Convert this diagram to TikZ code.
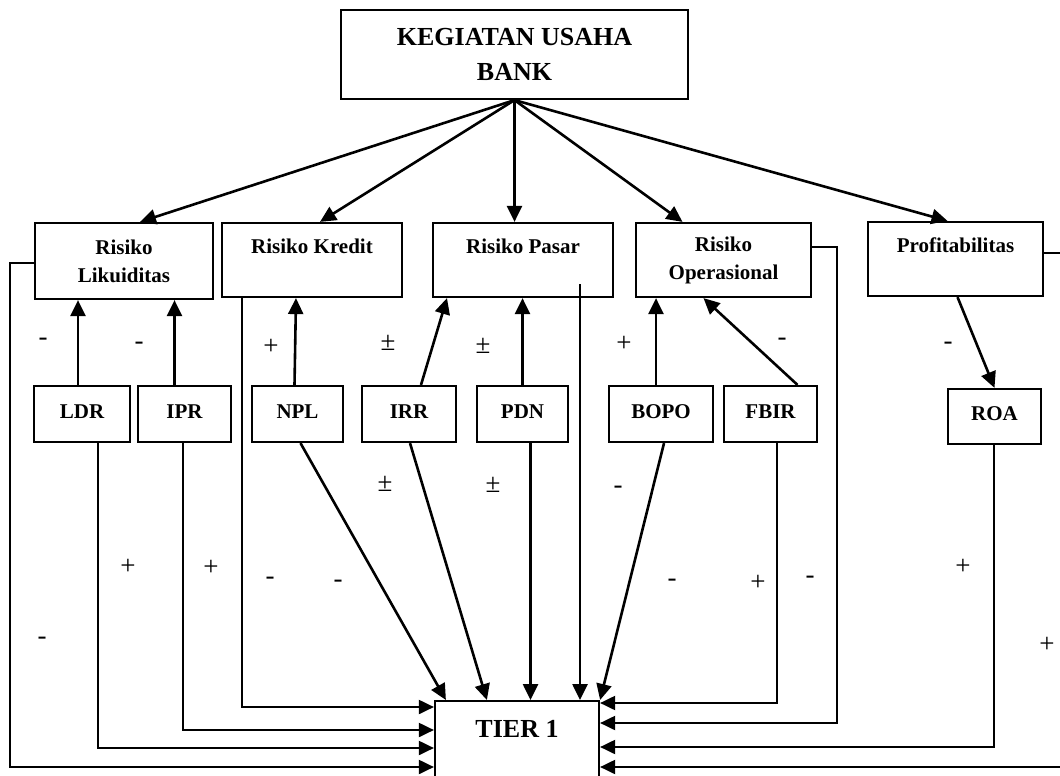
\documentclass[tikz,border=0pt]{standalone}
\usepackage{fontspec}
\setmainfont{Liberation Serif}
\usetikzlibrary{arrows.meta}

\begin{document}
\begin{tikzpicture}[x=1pt, y=-1pt,
		box/.style={draw, line width=2.2pt, inner sep=0pt, align=center, font=\fontsize{21}{28}\selectfont\bfseries},
		rasio/.style={box, minimum height=56pt, text height=14pt, text depth=6pt},
		arr/.style={line width=2.6pt, -{Triangle[length=16pt, width=15pt]}},
		con/.style={line width=2pt, -{Triangle[length=15pt, width=14pt]}},
		sign/.style={inner sep=0pt, font=\fontsize{27}{30}\selectfont}]
			\useasboundingbox (0,0) rectangle (1060,776);
			\clip (0,0) rectangle (1060,776);
			
			% Kegiatan usaha
			\node[box, font=\fontsize{26}{35}\selectfont\bfseries, minimum width=347pt, minimum height=89pt] (bank) at (514.5,54.5) {KEGIATAN USAHA\\BANK};
			
			% Risiko
			\node[box, minimum width=178pt, minimum height=76pt] (likuid) at (124,261) {Risiko\\Likuiditas};
			\node[box, minimum width=180pt, minimum height=74pt] (kredit) at (312,260) {Risiko Kredit\\\mbox{}};
			\node[box, minimum width=180pt, minimum height=74pt] (pasar) at (523,260) {Risiko Pasar\\\mbox{}};
			\node[box, minimum width=175pt, minimum height=74pt] (oper) at (723.5,260) {Risiko\\Operasional};
			\node[box, minimum width=175pt, minimum height=74pt] (profit) at (955.5,259) {Profitabilitas\\\mbox{}};
			
			% Rasio
			\node[rasio, minimum width=96pt] (ldr) at (82,414) {LDR};
			\node[rasio, minimum width=93pt] (ipr) at (184.5,414) {IPR};
			\node[rasio, minimum width=91pt] (npl) at (297.5,414) {NPL};
			\node[rasio, minimum width=94pt] (irr) at (409,414) {IRR};
			\node[rasio, minimum width=91pt] (pdn) at (522.5,414) {PDN};
			\node[rasio, minimum width=104pt] (bopo) at (661,414) {BOPO};
			\node[rasio, minimum width=93pt] (fbir) at (770.5,414) {FBIR};
			\node[rasio, minimum width=93pt, minimum height=55pt] (roa) at (994.5,416.5) {ROA};
			
			% Tier 1
			\node[box, font=\fontsize{26}{30}\selectfont\bfseries, minimum width=164pt, text height=36pt, text depth=64pt, anchor=north] (tier) at (517,700) {TIER 1};
			
			% Kegiatan usaha ke risiko
			\draw[arr] (bank.south) -- ([xshift=16pt]likuid.north);
			\draw[arr] (bank.south) -- ([xshift=8pt]kredit.north);
			\draw[arr] (bank.south) -- (bank.south |- pasar.north);
			\draw[arr] (bank.south) -- ([xshift=-41pt]oper.north);
			\draw[arr] (bank.south) -- ([xshift=-8pt]profit.north);
			
			% Rasio ke risiko
			\draw[arr] ([xshift=-4pt]ldr.north) -- ([xshift=-4pt]ldr.north |- likuid.south);
			\draw[arr] ([xshift=-10pt]ipr.north) -- ([xshift=-10pt]ipr.north |- likuid.south);
			\draw[arr] ([xshift=-3pt]npl.north) -- ([xshift=-16pt]kredit.south);
			\draw[arr] ([xshift=12pt]irr.north) -- ([xshift=-76pt]pasar.south);
			\draw[arr] (pdn.north) -- (pdn.north |- pasar.south);
			\draw[arr] ([xshift=-5pt]bopo.north) -- ([xshift=-5pt]bopo.north |- oper.south);
			\draw[arr] ([xshift=27pt]fbir.north) -- ([xshift=-20pt]oper.south);
			\draw[arr] ([xshift=2pt]profit.south) -- (roa.north);
			
			% Ke Tier 1, kiri
			\coordinate (lbend) at (10,767);
			\draw[con] ([yshift=-2pt]likuid.west) -| (lbend) -- ([yshift=-67pt]tier.north west);
			\draw[con] ([xshift=16pt]ldr.south) |- ([yshift=-48pt]tier.north west);
			\draw[con] ([xshift=-2pt]ipr.south) |- ([yshift=-30pt]tier.north west);
			\draw[con] ([xshift=-70pt]kredit.south) |- ([yshift=-7pt]tier.north west);
			
			% Ke Tier 1, atas
			\draw[arr] ([xshift=3pt]npl.south) -- ([xshift=12pt]tier.north west);
			\draw[arr] ([xshift=1pt]irr.south) -- ([xshift=53pt]tier.north west);
			\draw[arr] ([xshift=8pt]pdn.south) -- ([xshift=8pt]pdn.south |- tier.north);
			\draw[arr] ([xshift=57pt, yshift=14pt]pasar.south) -- ([xshift=57pt]pasar.south |- tier.north);
			\draw[arr] ([xshift=3pt]bopo.south) -- (tier.north east);
			
			% Ke Tier 1, kanan
			\coordinate (obend) at (837,723);
			\coordinate (rbend) at (1070,767);
			\draw[con] ([xshift=6pt]fbir.south) |- ([yshift=-3pt]tier.north east);
			\draw[con] ([yshift=13pt]oper.east) -| (obend) -- ([yshift=-23pt]tier.north east);
			\draw[con] ([xshift=-1pt]roa.south) |- ([yshift=-47pt]tier.north east);
			\draw[con] ([yshift=6pt]profit.east) -| (rbend) -- ([yshift=-67pt]tier.north east);
			
			% Tanda pengaruh
			\node[sign] (s1) at (43,342) {-};
			\node[sign] (s2) at (139,346) {-};
			\node[sign] (s3) at (271,347) {+};
			\node[sign] (s4) at (388,343) {±};
			\node[sign] (s5) at (483,346) {±};
			\node[sign] (s6) at (624,344) {+};
			\node[sign] (s7) at (782,342) {-};
			\node[sign] (s8) at (948,346) {-};
			\node[sign] (s9) at (385,484) {±};
			\node[sign] (s10) at (493,485) {±};
			\node[sign] (s11) at (618,490) {-};
			\node[sign] (s12) at (128,567) {+};
			\node[sign] (s13) at (211,568) {+};
			\node[sign] (s14) at (270,581) {-};
			\node[sign] (s15) at (338,584) {-};
			\node[sign] (s16) at (672,583) {-};
			\node[sign] (s17) at (758,583) {+};
			\node[sign] (s18) at (810,580) {-};
			\node[sign] (s19) at (963,567) {+};
			\node[sign] (s20) at (1047,645) {+};
			\node[sign] (s21) at (42,641) {-};
		\end{tikzpicture}
\end{document}
